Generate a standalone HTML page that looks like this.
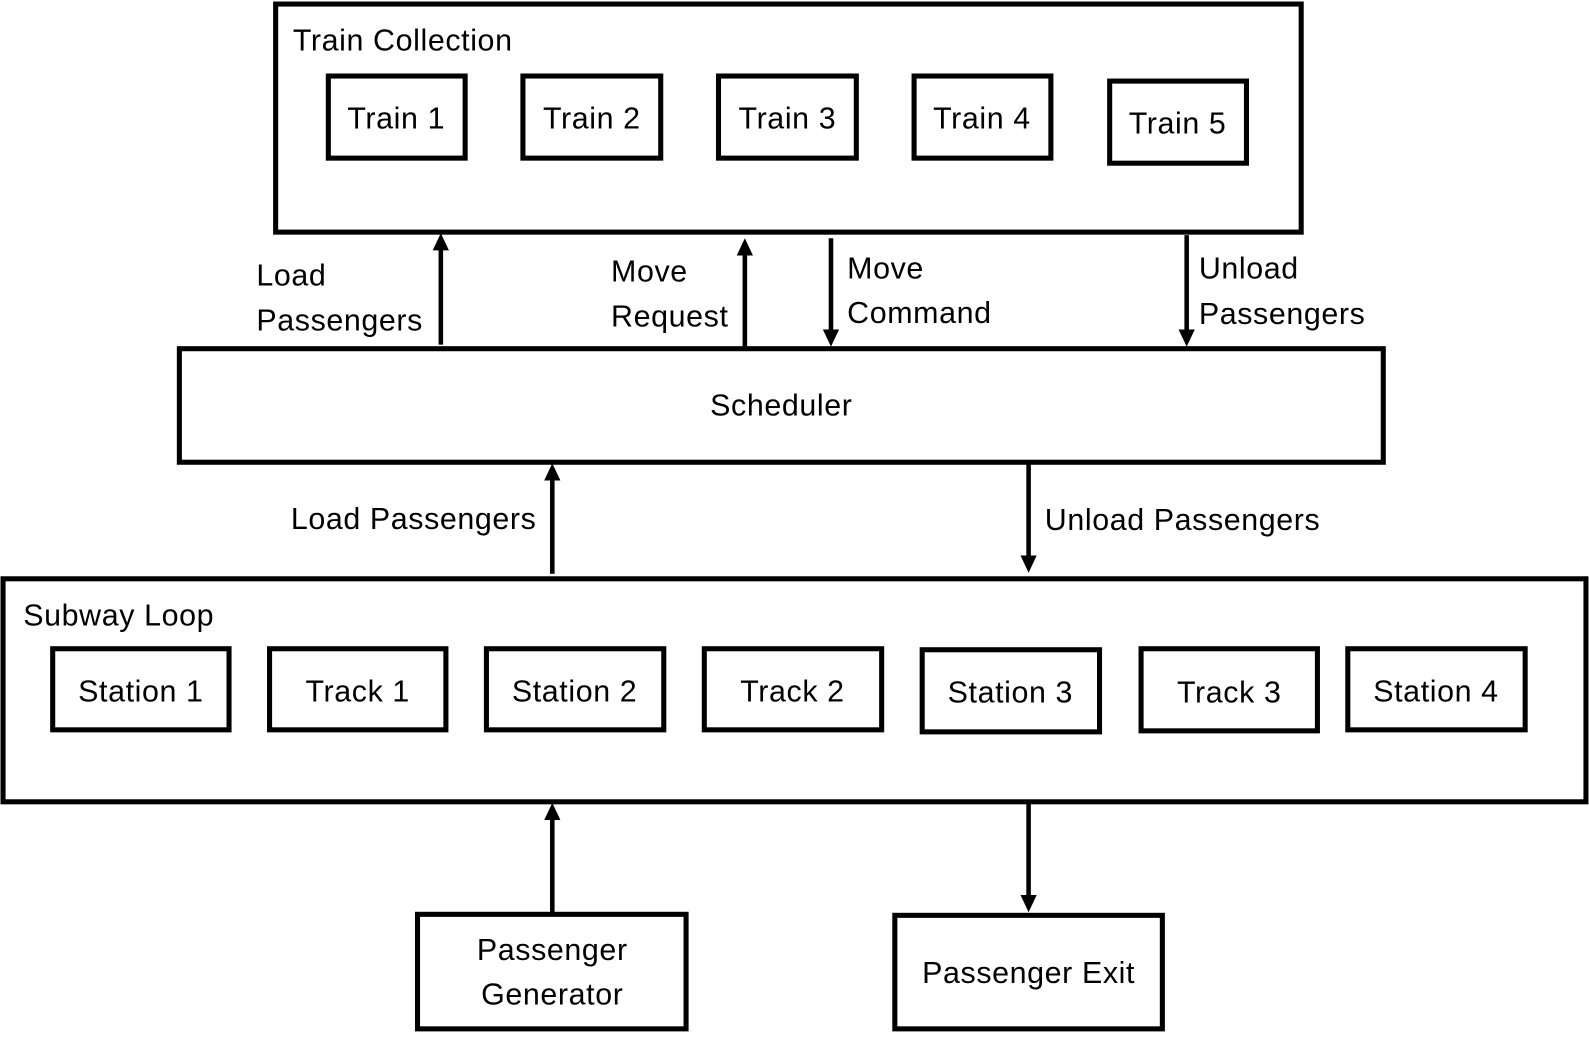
<!DOCTYPE html>
<html><head><meta charset="utf-8"><style>
html,body{margin:0;padding:0;background:#fff;}
svg{display:block;}
text{font-family:"Liberation Sans",sans-serif;font-size:30px;letter-spacing:0.6px;fill:#000;dominant-baseline:central;}
</style></head><body>
<svg width="1589" height="1039" viewBox="0 0 1568 1025" preserveAspectRatio="none" xmlns="http://www.w3.org/2000/svg">
<g fill="none" stroke="#000" stroke-width="5">
<rect x="272" y="4" width="1012" height="225"/>
<rect x="324" y="75" width="135" height="81"/>
<rect x="516" y="75" width="136" height="81"/>
<rect x="709" y="75" width="136" height="81"/>
<rect x="902" y="75" width="135" height="81"/>
<rect x="1095" y="80" width="135" height="81"/>
<rect x="177" y="344" width="1188" height="112"/>
<rect x="3" y="571" width="1562" height="220"/>
<rect x="52" y="640" width="174" height="80"/>
<rect x="266" y="640" width="174" height="80"/>
<rect x="480" y="640" width="175" height="80"/>
<rect x="695" y="640" width="175" height="80"/>
<rect x="910" y="641" width="175" height="81"/>
<rect x="1126" y="640" width="174" height="81"/>
<rect x="1330" y="640" width="175" height="80"/>
<rect x="412" y="902" width="265" height="113"/>
<rect x="883" y="903" width="264" height="112"/>
<g stroke-width="4.5">
<line x1="435" y1="340" x2="435" y2="244"/>
<line x1="735" y1="344" x2="735" y2="249"/>
<line x1="820" y1="235" x2="820" y2="328"/>
<line x1="1171" y1="232" x2="1171" y2="328"/>
<line x1="545" y1="566" x2="545" y2="471"/>
<line x1="1015" y1="457" x2="1015" y2="551"/>
<line x1="545" y1="900" x2="545" y2="806"/>
<line x1="1015" y1="792" x2="1015" y2="886"/>
</g>
</g>
<g fill="#000">
<polygon points="427,247 443,247 435,230"/>
<polygon points="727,252 743,252 735,235"/>
<polygon points="812,325 828,325 820,342"/>
<polygon points="1163,325 1179,325 1171,342"/>
<polygon points="537,474 553,474 545,457"/>
<polygon points="1007,548 1023,548 1015,565"/>
<polygon points="537,809 553,809 545,792"/>
<polygon points="1007,883 1023,883 1015,900"/>
</g>
<text x="289" y="40">Train Collection</text>
<g text-anchor="middle">
<text x="391" y="117">Train 1</text>
<text x="584" y="117">Train 2</text>
<text x="777" y="117">Train 3</text>
<text x="969" y="117">Train 4</text>
<text x="1162" y="122">Train 5</text>
<text x="771" y="400">Scheduler</text>
<text x="139" y="682">Station 1</text>
<text x="353" y="682">Track 1</text>
<text x="567" y="682">Station 2</text>
<text x="782" y="682">Track 2</text>
<text x="997" y="683">Station 3</text>
<text x="1213" y="683">Track 3</text>
<text x="1417" y="682">Station 4</text>
<text x="545" y="937">Passenger</text>
<text x="545" y="981">Generator</text>
<text x="1015" y="960">Passenger Exit</text>
</g>
<text x="253" y="272">Load</text>
<text x="253" y="316">Passengers</text>
<text x="603" y="268">Move</text>
<text x="603" y="312">Request</text>
<text x="836" y="265">Move</text>
<text x="836" y="309">Command</text>
<text x="1183" y="265">Unload</text>
<text x="1183" y="310">Passengers</text>
<text x="287" y="512">Load Passengers</text>
<text x="1031" y="513">Unload Passengers</text>
<text x="23" y="607">Subway Loop</text>
</svg>
</body></html>
